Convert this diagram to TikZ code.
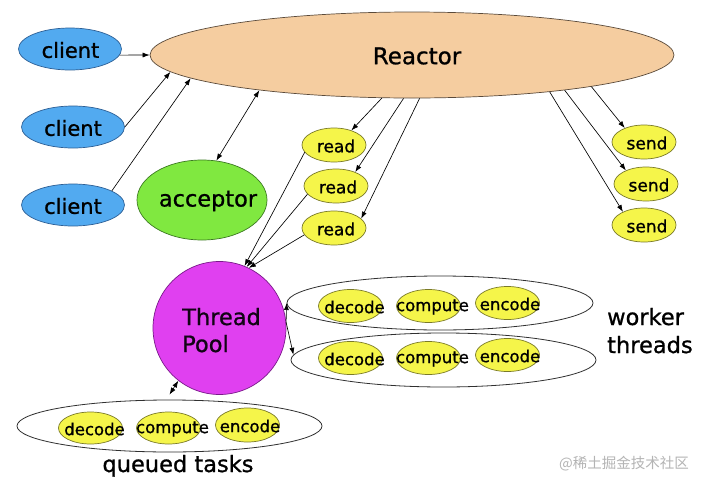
\documentclass[tikz,border=0pt]{standalone}
\usepackage{fontspec}
\setmainfont{DejaVu Sans}[FakeBold=0.9]
\newfontfamily\cjk{Noto Sans CJK SC}
\usetikzlibrary{shapes.geometric,arrows.meta}
\definecolor{clientfill}{HTML}{52AAF0}
\definecolor{clientline}{HTML}{2D5F95}
\definecolor{reactorfill}{HTML}{F5CDA0}
\definecolor{reactorline}{HTML}{5A4A3A}
\definecolor{accfill}{HTML}{80E840}
\definecolor{accline}{HTML}{3C7A22}
\definecolor{yel}{HTML}{F5F54A}
\definecolor{yelline}{HTML}{7A7A28}
\definecolor{tpfill}{HTML}{E040F0}
\definecolor{tpline}{HTML}{7A1A8A}
\definecolor{ringline}{HTML}{303030}
\definecolor{wm}{HTML}{B4B4B4}
\tikzset{
  shp/.style={ellipse, inner sep=0pt, line width=0.7pt},
  clientbox/.style={shp, draw=clientline, fill=clientfill, minimum width=103pt, minimum height=42pt},
  reactorbox/.style={shp, draw=reactorline, fill=reactorfill, minimum width=524pt, minimum height=86pt},
  accbox/.style={shp, draw=accline, fill=accfill, minimum width=130pt, minimum height=80pt},
  ybox/.style={shp, draw=yelline, fill=yel, minimum width=64pt, minimum height=34pt},
  taskbox/.style={shp, draw=yelline, fill=yel, minimum width=64pt, minimum height=33pt},
  ringbox/.style={shp, draw=ringline, line width=0.8pt},
  tpbox/.style={circle, inner sep=0pt, line width=0.7pt, draw=tpline, fill=tpfill, minimum size=133pt},
  txt/.style={inner sep=0pt, text=black},
  bigtxt/.style={txt, font=\fontsize{21}{25}\selectfont},
  reacttxt/.style={txt, font=\fontsize{23}{27}\selectfont},
  acctxt/.style={txt, font=\fontsize{22.4}{26}\selectfont},
  smalltxt/.style={txt, font=\fontsize{17}{20}\selectfont},
  tasktxt/.style={txt, font=\fontsize{16.5}{20}\selectfont},
  labtxt/.style={txt, font=\fontsize{22.5}{27}\selectfont},
  arr/.style={-{Latex[length=7pt,width=5pt]}, line width=0.65pt, black},
  darr/.style={{Latex[length=7pt,width=5pt]}-{Latex[length=7pt,width=5pt]}, line width=0.65pt, black},
}
\begin{document}
\begin{tikzpicture}[x=1pt,y=-1pt]
\useasboundingbox (0,0) rectangle (705,488);
\fill[white] (0,0) rectangle (705,488);

% main nodes
\node[reactorbox] (reactor) at (412,55) {};
\node[reacttxt] (reactort) at (417,56) {Reactor};

\node[clientbox] (client1) at (70,49) {};
\node[bigtxt] (client1t) at (70.5,50) {client};
\node[clientbox] (client2) at (73,127) {};
\node[bigtxt] (client2t) at (73,128) {client};
\node[clientbox] (client3) at (73,205) {};
\node[bigtxt] (client3t) at (73,206) {client};

\node[accbox] (acceptor) at (202,200) {};
\node[acctxt] (acceptort) at (208,201) {acceptor};

\node[ybox] (read1) at (334,145) {};
\node[smalltxt] (read1t) at (336,146) {read};
\node[ybox] (read2) at (336,186) {};
\node[smalltxt] (read2t) at (338,187) {read};
\node[ybox] (read3) at (334,228) {};
\node[smalltxt] (read3t) at (336,229) {read};

\node[ybox] (send1) at (644,142) {};
\node[smalltxt] (send1t) at (647,143) {send};
\node[ybox] (send2) at (646,184) {};
\node[smalltxt] (send2t) at (649,185) {send};
\node[ybox] (send3) at (644,225) {};
\node[smalltxt] (send3t) at (647,226) {send};

\node[tpbox] (tp) at (219.5,328) {};
\node[labtxt, anchor=base west, text={black!85!tpline}] (tpt1) at (182,325) {Thread};
\node[labtxt, anchor=base west, text={black!85!tpline}] (tpt2) at (182,352) {Pool};

% worker threads
\node[ringbox, minimum width=306pt, minimum height=54pt] (w1) at (440,303) {};
\node[ringbox, minimum width=305pt, minimum height=54pt] (w2) at (443.5,360) {};
\node[taskbox] (d1) at (350.5,306) {};
\node[tasktxt] (d1t) at (354.5,307) {decode};
\node[taskbox] (c1) at (428.5,306) {};
\node[tasktxt] (c1t) at (432.5,307) {compute};
\node[taskbox] (e1) at (507.5,303) {};
\node[tasktxt] (e1t) at (510,304) {encode};
\node[taskbox] (d2) at (350.5,358) {};
\node[tasktxt] (d2t) at (354.5,359) {decode};
\node[taskbox] (c2) at (428.5,358) {};
\node[tasktxt] (c2t) at (432.5,359) {compute};
\node[taskbox] (e2) at (507.5,355) {};
\node[tasktxt] (e2t) at (510,356) {encode};
\node[labtxt, anchor=base west] (wt1) at (607,325) {worker};
\node[labtxt, anchor=base west] (wt2) at (607,353) {threads};

% queued tasks
\node[ringbox, minimum width=305pt, minimum height=52pt] (q) at (169.5,426) {};
\node[taskbox, minimum height=32pt] (d3) at (90.5,428) {};
\node[tasktxt] (d3t) at (94.5,429) {decode};
\node[taskbox, minimum height=32pt] (c3) at (168.5,428) {};
\node[tasktxt] (c3t) at (172.5,429) {compute};
\node[taskbox, minimum height=34pt] (e3) at (247.5,425) {};
\node[tasktxt] (e3t) at (250,426) {encode};
\node[labtxt, anchor=base] (qt) at (178,472) {queued tasks};

% watermark
\node[inner sep=0pt, anchor=east, text=wm, font=\cjk\fontsize{14.5}{17}\selectfont] (wmark) at (689,464) {@稀土掘金技术社区};

% connectors
\draw[arr] (client1.-7) -- (reactor.west);
\draw[arr] (client2.east) -- (reactor.184.5);
\draw[arr] (client3.20) -- (reactor.186.6);
\draw[darr] (acceptor.70) -- (reactor.193.9);

\draw[arr] (reactor.235.8) -- (read1.40);
\draw[arr] (reactor.259.5) -- (read2.36);
\draw[arr] (reactor.280.5) -- (read3.19);

\draw[arr] (reactor.350.7) -- (send1.144.5);
\draw[arr] (reactor.347.6) -- (send2.146);
\draw[arr] (reactor.345.3) -- (send3.148);

\draw[arr] (read1.194) -- (tp.68);
\draw[arr] (read2.196) -- (tp.66);
\draw[arr] (read3.193) -- (tp.64);

\draw[arr] (tp.5) -- (w1.west);
\draw[arr] (tp.5) -- (w2.178);

\coordinate (qtop) at ([yshift=5pt]q.north);
\draw[darr] (qtop) -- (tp.232);
\end{tikzpicture}
\end{document}
